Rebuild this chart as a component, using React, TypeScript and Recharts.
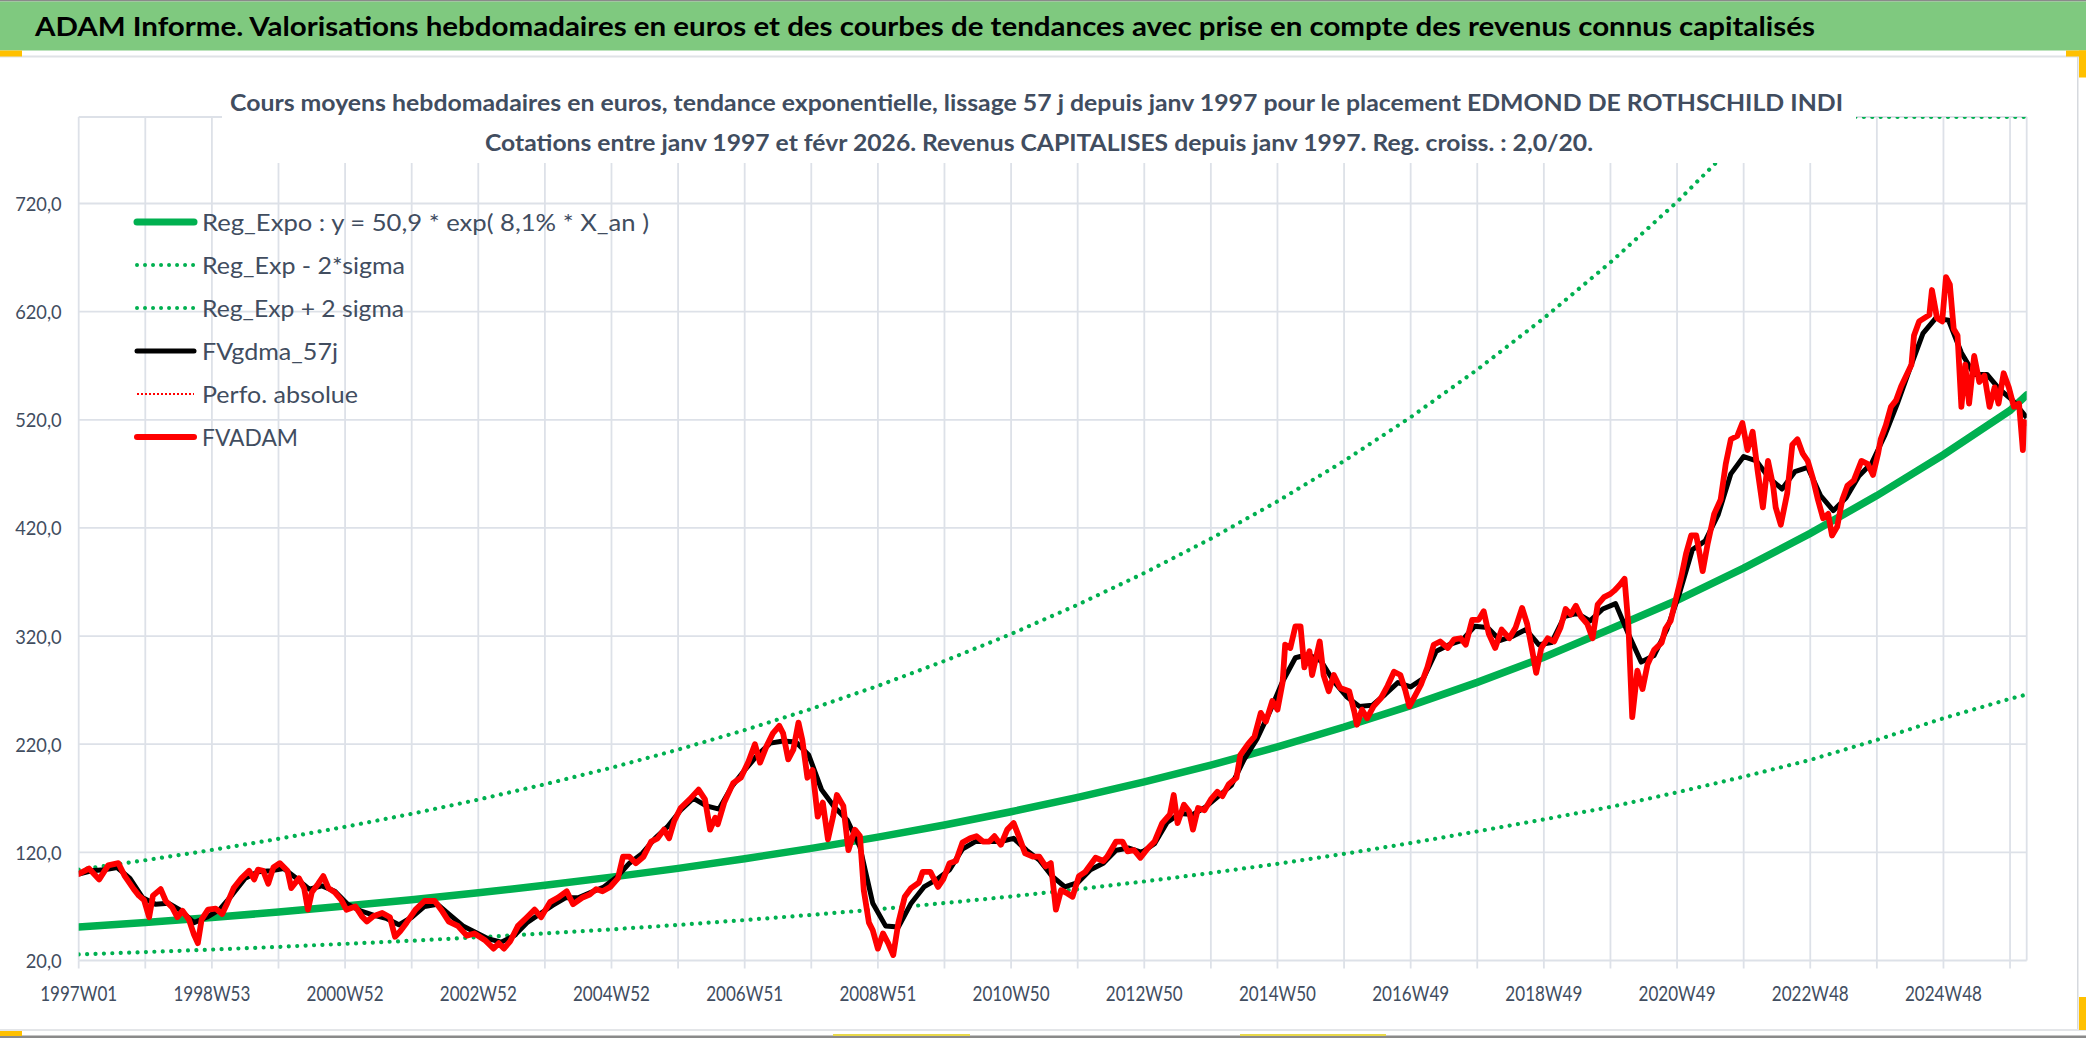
import React from 'react';
import { LineChart, Line, XAxis, YAxis, CartesianGrid } from 'recharts';

if (typeof document !== 'undefined') {
  document.body.style.margin = '0';
}

const W = 2086;
const H = 1038;
const FONT = "Lato, 'Open Sans', 'Liberation Sans', sans-serif";
const TEXT = '#414d5f';
const GRID = '#dde1e8';
const GREEN = '#00b050';

// ---- axis ticks / labels ----
const xTicks = [0, 52, 104, 156, 208, 260, 312, 364, 416, 468, 520, 572, 624, 676, 728, 780, 832, 884, 936, 988, 1040, 1092, 1144, 1196, 1248, 1300, 1352, 1404, 1456, 1508];
const xLabelWeeks = [0, 104, 208, 312, 416, 520, 624, 728, 832, 936, 1040, 1144, 1248, 1352, 1456];
const xLabels = ['1997W01', '1998W53', '2000W52', '2002W52', '2004W52', '2006W51', '2008W51', '2010W50', '2012W50', '2014W50', '2016W49', '2018W49', '2020W49', '2022W48', '2024W48'];
const yTicks = [20, 120, 220, 320, 420, 520, 620, 720];

// ---- series (week index, value in euros) ----
const trendWeeks = [0, 52, 104, 156, 208, 260, 312, 364, 416, 468, 520, 572, 624, 676, 728, 780, 832, 884, 936, 988, 1040, 1092, 1144, 1196, 1248, 1300, 1352, 1404, 1456, 1508, 1521];
const regExpoValues = [50.9, 55.2, 59.8, 64.8, 70.3, 76.2, 82.6, 89.5, 97.1, 105.2, 114.1, 123.7, 134.1, 145.3, 157.6, 170.8, 185.1, 200.7, 217.6, 235.9, 255.7, 277.2, 300.5, 326.5, 353.1, 382.8, 415.0, 449.9, 487.7, 528.6, 543];
const regLowValues = [25.6, 27.8, 30.1, 32.6, 35.4, 38.3, 41.5, 45.0, 48.8, 52.9, 57.4, 62.2, 67.4, 73.1, 79.2, 85.9, 93.1, 100.9, 109.4, 118.6, 128.6, 139.4, 150.5, 162.0, 175.5, 190.0, 205.5, 224.0, 244.0, 262.0, 266.0];

const regHighWeeks = [0, 52, 104, 156, 208, 260, 312, 364, 416, 468, 520, 572, 624, 676, 728, 780, 832, 884, 936, 988, 1040, 1092, 1144, 1196, 1248, 1282, 1314, 1400, 1521];
const regHighValues = [104, 112.7, 122.2, 132.5, 143.6, 155.7, 168.8, 183.0, 198.3, 215.0, 233.1, 252.7, 273.9, 297.0, 321.9, 349.0, 378.3, 410.1, 444.6, 481.9, 522.4, 566.4, 614.0, 665.6, 721.5, 762, 800, 800, 800];

const fvgdmaPoints: [number, number][] = [
  [0, 100], [10, 103], [20, 104], [30, 106], [40, 96], [50, 78], [60, 72], [70, 73], [80, 66], [90, 55],
  [100, 60], [110, 67], [120, 81], [130, 96], [140, 102], [150, 103], [160, 105], [170, 96], [180, 86], [190, 89],
  [200, 84], [210, 72], [220, 66], [230, 62], [240, 59], [250, 53], [260, 60], [270, 70], [280, 72], [290, 62],
  [300, 52], [310, 46], [320, 40], [330, 37], [340, 43], [350, 55], [360, 63], [370, 71], [380, 78], [390, 78],
  [400, 83], [410, 88], [420, 97], [430, 110], [440, 119], [450, 133], [460, 144], [470, 159], [480, 170], [490, 163],
  [500, 160], [510, 181], [520, 196], [530, 210], [540, 221], [550, 223], [560, 222], [570, 210], [580, 178], [590, 162],
  [600, 150], [610, 125], [620, 73], [630, 52], [640, 51], [650, 73], [660, 88], [670, 95], [680, 104], [690, 123],
  [700, 130], [710, 130], [720, 130], [730, 133], [740, 122], [750, 113], [760, 98], [770, 88], [780, 92], [790, 104],
  [800, 110], [810, 122], [820, 124], [830, 120], [840, 128], [850, 148], [860, 156], [870, 155], [880, 162], [890, 172],
  [900, 182], [910, 206], [920, 225], [930, 250], [940, 278], [950, 300], [960, 303], [970, 297], [980, 278], [990, 264],
  [1000, 255], [1010, 256], [1020, 266], [1030, 277], [1040, 273], [1050, 281], [1060, 306], [1070, 312], [1080, 316], [1090, 329],
  [1100, 328], [1110, 316], [1120, 320], [1130, 326], [1140, 312], [1150, 314], [1160, 338], [1170, 341], [1180, 334], [1190, 345],
  [1200, 350], [1210, 322], [1220, 296], [1230, 302], [1240, 326], [1250, 360], [1260, 400], [1270, 408], [1280, 432], [1290, 470],
  [1300, 486], [1310, 482], [1320, 466], [1330, 456], [1340, 472], [1350, 476], [1360, 450], [1370, 436], [1380, 448], [1390, 468],
  [1400, 480], [1410, 505], [1420, 535], [1430, 568], [1440, 600], [1450, 614], [1460, 612], [1470, 582], [1480, 562], [1490, 562],
  [1500, 548], [1510, 538], [1521, 522],
];

const fvadamPoints: [number, number][] = [
  [0, 100], [8, 105], [16, 95], [23, 108], [31, 110], [36, 98], [43, 86], [47, 80], [51, 76], [55, 60],
  [58, 80], [64, 86], [68, 75], [73, 69], [77, 60], [81, 66], [86, 58], [90, 44], [93, 36], [96, 58],
  [101, 67], [107, 68], [112, 63], [116, 73], [121, 87], [127, 96], [133, 103], [137, 95], [140, 104], [144, 103],
  [148, 91], [152, 106], [157, 110], [163, 103], [166, 87], [172, 96], [176, 87], [179, 67], [182, 83], [187, 91],
  [191, 98], [195, 87], [200, 83], [205, 76], [209, 67], [216, 70], [221, 61], [225, 56], [230, 61], [237, 64],
  [243, 60], [247, 42], [251, 47], [256, 55], [263, 67], [270, 75], [278, 75], [283, 67], [289, 56], [296, 52],
  [303, 43], [309, 45], [317, 39], [324, 31], [328, 36], [332, 31], [337, 38], [343, 52], [350, 60], [356, 67],
  [361, 60], [368, 74], [374, 78], [381, 84], [386, 72], [393, 78], [399, 81], [404, 86], [409, 84], [415, 88],
  [421, 96], [425, 116], [430, 116], [435, 110], [441, 116], [447, 130], [452, 133], [457, 141], [461, 133], [465, 149],
  [470, 161], [477, 169], [484, 178], [489, 169], [493, 141], [497, 152], [499, 146], [504, 166], [511, 184], [517, 189],
  [523, 204], [528, 220], [532, 203], [537, 218], [542, 230], [547, 237], [550, 230], [554, 206], [558, 215], [562, 240],
  [565, 224], [569, 189], [573, 196], [577, 153], [581, 166], [585, 132], [589, 153], [592, 173], [597, 163], [601, 122],
  [606, 141], [610, 135], [613, 85], [617, 55], [620, 48], [624, 31], [628, 45], [632, 36], [636, 25], [640, 55],
  [645, 79], [650, 87], [656, 92], [659, 102], [665, 102], [671, 88], [675, 95], [680, 110], [685, 112], [690, 129],
  [696, 133], [701, 135], [706, 130], [711, 130], [715, 135], [720, 127], [725, 141], [730, 147], [734, 135], [739, 119],
  [745, 116], [750, 116], [755, 107], [759, 110], [763, 67], [767, 85], [772, 82], [776, 79], [781, 98], [786, 102],
  [794, 115], [800, 112], [803, 116], [810, 130], [815, 130], [819, 121], [824, 122], [829, 115], [835, 124], [840, 130],
  [846, 147], [852, 155], [855, 173], [858, 147], [863, 164], [867, 158], [870, 141], [874, 161], [879, 159], [884, 169],
  [889, 176], [893, 172], [898, 183], [904, 189], [907, 210], [913, 220], [918, 227], [923, 249], [927, 241], [932, 260],
  [936, 252], [940, 277], [942, 312], [946, 309], [950, 329], [954, 329], [957, 291], [961, 306], [963, 284], [969, 315],
  [972, 284], [976, 269], [980, 284], [985, 272], [992, 269], [996, 250], [998, 238], [1002, 252], [1006, 244], [1011, 255],
  [1017, 263], [1022, 274], [1027, 287], [1032, 284], [1036, 269], [1039, 255], [1044, 266], [1048, 275], [1053, 291], [1058, 312],
  [1063, 315], [1069, 309], [1074, 317], [1079, 318], [1083, 312], [1088, 335], [1093, 335], [1097, 343], [1101, 322], [1106, 309],
  [1111, 326], [1117, 318], [1122, 328], [1127, 346], [1131, 331], [1135, 306], [1138, 286], [1142, 309], [1147, 318], [1152, 315],
  [1157, 328], [1161, 345], [1165, 340], [1169, 348], [1173, 338], [1178, 331], [1182, 318], [1186, 349], [1191, 356], [1196, 359],
  [1199, 362], [1203, 367], [1207, 373], [1210, 330], [1213, 245], [1217, 288], [1221, 271], [1225, 294], [1230, 307], [1236, 314],
  [1239, 327], [1243, 334], [1247, 354], [1251, 373], [1255, 396], [1259, 413], [1263, 413], [1265, 400], [1268, 380], [1272, 406],
  [1277, 433], [1282, 446], [1286, 479], [1290, 502], [1295, 505], [1299, 517], [1303, 492], [1307, 509], [1311, 472], [1315, 439],
  [1319, 482], [1323, 459], [1325, 439], [1329, 423], [1334, 452], [1338, 497], [1342, 502], [1346, 489], [1350, 482], [1354, 466],
  [1358, 446], [1362, 429], [1366, 433], [1369, 413], [1373, 421], [1377, 446], [1381, 459], [1386, 464], [1392, 482], [1397, 479],
  [1401, 469], [1405, 489], [1407, 502], [1411, 515], [1415, 532], [1419, 538], [1423, 551], [1427, 561], [1431, 571], [1433, 598],
  [1437, 611], [1441, 614], [1445, 617], [1447, 640], [1451, 614], [1455, 611], [1458, 652], [1461, 645], [1464, 604], [1467, 598],
  [1470, 532], [1473, 571], [1476, 535], [1480, 579], [1484, 555], [1488, 561], [1492, 532], [1496, 550], [1499, 535], [1503, 563],
  [1507, 550], [1511, 532], [1515, 535], [1518, 492], [1519, 518], [1521, 517],
];

// ---- texts ----
const headerTitle = 'ADAM Informe. Valorisations hebdomadaires en euros et des courbes de tendances avec prise en compte des revenus connus capitalisés';
const subtitle1 = 'Cours moyens hebdomadaires en euros, tendance exponentielle, lissage 57 j depuis janv 1997 pour le placement EDMOND DE ROTHSCHILD INDI';
const subtitle2 = 'Cotations entre janv 1997 et févr 2026. Revenus CAPITALISES depuis janv 1997. Reg. croiss. : 2,0/20.';

const legendNames = ['Reg_Expo : y = 50,9 * exp( 8,1% *  X_an )', 'Reg_Exp - 2*sigma', 'Reg_Exp + 2 sigma', 'FVgdma_57j', 'Perfo. absolue', 'FVADAM'];
const legendColors = [GREEN, GREEN, GREEN, '#000000', '#ff0000', '#ff0000'];
const legendWidths = [7, 4, 4, 5, 2.2, 6];
const legendDash = ['', '0.01 8', '0.01 8', '', '2 2', ''];
const legendTextLen = [447, 203, 202, 136, 156, 96];

const toRows = (weeks: number[], values: number[]) => weeks.map((w, i) => ({ w, v: values[i] }));
const pairRows = (pts: [number, number][]) => pts.map(([w, v]) => ({ w, v }));

const regExpoData = toRows(trendWeeks, regExpoValues);
const regLowData = toRows(trendWeeks, regLowValues);
const regHighData = toRows(regHighWeeks, regHighValues);
const fvgdmaData = pairRows(fvgdmaPoints);
const fvadamData = pairRows(fvadamPoints);

const XTick = (props: any) => {
  const { x, y, payload } = props;
  const idx = xLabelWeeks.indexOf(payload.value);
  if (idx < 0) return <g />;
  return (
    <text x={x} y={y + 32} textAnchor="middle" fontSize={21} fill={TEXT} fontFamily={FONT}
      textLength={77} lengthAdjust="spacingAndGlyphs">{xLabels[idx]}</text>
  );
};

const YTick = (props: any) => {
  const { x, y, payload } = props;
  const label = Number(payload.value).toFixed(1).replace('.', ',');
  const len = label.length === 4 ? 36 : 46.5;
  return (
    <text x={x} y={y + 7.5} textAnchor="end" fontSize={20} fill={TEXT} fontFamily={FONT}
      textLength={len} lengthAdjust="spacingAndGlyphs">{label}</text>
  );
};

export default function App() {
  return (
    <div style={{ position: 'relative', width: W, height: H, background: '#ffffff', overflow: 'hidden', fontFamily: FONT }}>
      <div style={{ position: 'absolute', left: 0, top: 0 }}>
        <LineChart width={W} height={H} margin={{ top: 117, right: 59.3, bottom: 0, left: 0 }}>
          <CartesianGrid stroke={GRID} strokeWidth={1.8} />
          <XAxis type="number" dataKey="w" domain={[0, 1521]} ticks={xTicks} interval={0}
            tick={XTick} tickLine={{ stroke: GRID, strokeWidth: 1.8 }} tickSize={8} tickMargin={0}
            axisLine={false} height={77.5} allowDataOverflow />
          <YAxis type="number" domain={[20, 800]} ticks={yTicks} interval={0} tick={YTick}
            tickLine={false} tickSize={0} tickMargin={17} axisLine={false} width={78.7} allowDataOverflow />
          <Line data={regExpoData} dataKey="v" type="linear" stroke={GREEN} strokeWidth={7.5}
            strokeLinecap="round" dot={false} activeDot={false} isAnimationActive={false} />
          <Line data={regLowData} dataKey="v" type="linear" stroke={GREEN} strokeWidth={4.2}
            strokeDasharray="0.01 8.4" strokeLinecap="round" dot={false} activeDot={false} isAnimationActive={false} />
          <Line data={regHighData} dataKey="v" type="linear" stroke={GREEN} strokeWidth={4.2}
            strokeDasharray="0.01 8.4" strokeLinecap="round" dot={false} activeDot={false} isAnimationActive={false} />
          <Line data={fvgdmaData} dataKey="v" type="linear" stroke="#000000" strokeWidth={5}
            strokeLinejoin="round" dot={false} activeDot={false} isAnimationActive={false} />
          <Line data={fvadamData} dataKey="v" type="linear" stroke="#ff0000" strokeWidth={5.8}
            strokeLinejoin="round" strokeLinecap="round" dot={false} activeDot={false} isAnimationActive={false} />
        </LineChart>
      </div>

      <svg width={W} height={H} style={{ position: 'absolute', left: 0, top: 0, pointerEvents: 'none' }}>
        {/* header band */}
        <rect x={0} y={0} width={W} height={1.5} fill="#8a8a8a" />
        <rect x={0} y={1.5} width={W} height={49} fill="#7fc97f" />
        <rect x={0} y={55.5} width={W} height={2} fill="#dfe2e6" />
        <text x={35} y={35.5} fontSize={27} fontWeight={700} fill="#000000" fontFamily={FONT}
          textLength={1780} lengthAdjust="spacingAndGlyphs">{headerTitle}</text>

        {/* chart title box (white fill over plot area) */}
        <rect x={222} y={58} width={1634} height={105} fill="#ffffff" />
        <text x={230} y={110.7} fontSize={23} fontWeight={700} fill={TEXT} fontFamily={FONT}
          textLength={1613} lengthAdjust="spacingAndGlyphs">{subtitle1}</text>
        <text x={485} y={151} fontSize={23} fontWeight={700} fill={TEXT} fontFamily={FONT}
          textLength={1108} lengthAdjust="spacingAndGlyphs">{subtitle2}</text>

        {/* legend */}
        {legendNames.map((name, i) => {
          const cy = 222 + i * 43;
          return (
            <g key={name}>
              <line x1={137} x2={194} y1={cy} y2={cy} stroke={legendColors[i]} strokeWidth={legendWidths[i]}
                strokeDasharray={legendDash[i] || undefined} strokeLinecap={legendDash[i] === '2 2' ? 'butt' : 'round'} />
              <text x={202} y={cy + 8.5} fontSize={24} fill={TEXT} fontFamily={FONT}
                textLength={legendTextLen[i]} lengthAdjust="spacingAndGlyphs">{name}</text>
            </g>
          );
        })}

        {/* frame / selection marks */}
        <rect x={2077} y={57} width={1.5} height={973} fill="#d6d9de" />
        <rect x={0} y={1029} width={W} height={2} fill="#e3e5e8" />
        <rect x={0} y={1035.5} width={W} height={2.5} fill="#8a8a8a" />
        <rect x={0} y={50.5} width={22} height={6} fill="#ffc000" />
        <rect x={2066} y={50.5} width={20} height={6} fill="#ffc000" />
        <rect x={2079} y={50.5} width={7} height={27} fill="#ffc000" />
        <rect x={0} y={1031} width={22} height={5} fill="#ffc000" />
        <rect x={2079} y={997} width={7} height={33} fill="#ffc000" />
        <rect x={833} y={1034} width={137} height={2} fill="#e8d84a" />
        <rect x={1240} y={1034} width={146} height={2} fill="#e8d84a" />
      </svg>
    </div>
  );
}
